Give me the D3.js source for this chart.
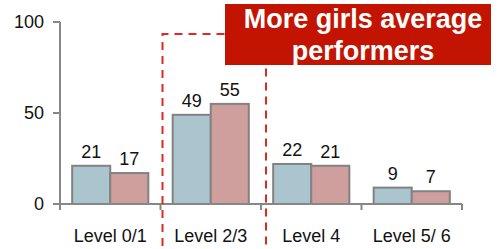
<html>
<style>
    body {
        margin: 0;
        background: #ffffff;
        font-family: Arial, "Liberation Sans", Helvetica, sans-serif;
    }
</style>
<script src="https://d3js.org/d3.v7.min.js"></script>
<body>
<svg id="chart"></svg>
</body>
<script>
let levels = ["Level 0/1", "Level 2/3", "Level 4", "Level 5/ 6"]
let boys = [21, 49, 22, 9]
let girls = [17, 55, 21, 7]
let yTicks = [0, 50, 100]
let calloutLines = ["More girls average", "performers"]

function drawChart() {
  let width = 499, height = 249
  let svg = d3.select("#chart").attr("width", width).attr("height", height)

  let x0 = d3.scaleBand().domain(levels).range([60, 462]).padding(0)
  let x1 = d3.scaleBand().domain(["boys", "girls"]).range([0, x0.bandwidth()])
      .paddingInner(0).paddingOuter(0.32)
  let y = d3.scaleLinear().domain([0, 100]).range([204, 22])
  let colors = {boys: "#abc5cf", girls: "#cf9f9d"}
  let axisColor = "#878787"

  let rows = levels.map((l, i) => ({level: l, vals: [
    {key: "boys", v: boys[i]}, {key: "girls", v: girls[i]}]}))

  // bars
  let g = svg.selectAll("g.cat").data(rows).enter().append("g")
      .attr("class", "cat")
      .attr("transform", d => "translate(" + x0(d.level) + ",0)")
  g.selectAll("rect").data(d => d.vals).enter().append("rect")
      .attr("x", d => x1(d.key))
      .attr("y", d => y(d.v))
      .attr("width", x1.bandwidth())
      .attr("height", d => y(0) - y(d.v))
      .attr("fill", d => colors[d.key])
      .attr("stroke", "#828282")
      .attr("stroke-width", 2)
  g.selectAll("text").data(d => d.vals).enter().append("text")
      .attr("x", d => x1(d.key) + x1.bandwidth() / 2)
      .attr("y", d => y(d.v) - 8)
      .attr("text-anchor", "middle")
      .attr("font-size", "18px")
      .attr("fill", "#111")
      .text(d => d.v)

  // y axis
  let yAxis = svg.append("g")
  yAxis.append("line").attr("x1", 60).attr("x2", 60).attr("y1", y(100)).attr("y2", y(0) + 6)
      .attr("stroke", axisColor).attr("stroke-width", 2)
  yAxis.selectAll("line.tick").data(yTicks).enter().append("line")
      .attr("x1", 53).attr("x2", 60).attr("y1", d => y(d)).attr("y2", d => y(d))
      .attr("stroke", axisColor).attr("stroke-width", 2)
  yAxis.selectAll("text").data(yTicks).enter().append("text")
      .attr("x", 44).attr("y", d => y(d) + 6)
      .attr("text-anchor", "end")
      .attr("font-size", "18px")
      .attr("fill", "#111")
      .text(d => d)

  // x axis
  let xAxis = svg.append("g")
  xAxis.append("line").attr("x1", 53).attr("x2", 462).attr("y1", y(0)).attr("y2", y(0))
      .attr("stroke", axisColor).attr("stroke-width", 2)
  xAxis.selectAll("line.tick").data(levels).enter().append("line")
      .attr("x1", d => x0(d) + x0.bandwidth()).attr("x2", d => x0(d) + x0.bandwidth())
      .attr("y1", y(0)).attr("y2", y(0) + 6)
      .attr("stroke", axisColor).attr("stroke-width", 2)
  xAxis.selectAll("text").data(levels).enter().append("text")
      .attr("x", d => x0(d) + x0.bandwidth() / 2)
      .attr("y", 242)
      .attr("text-anchor", "middle")
      .attr("font-size", "18px")
      .attr("fill", "#111")
      .text(d => d)

  // dashed highlight around Level 2/3
  let hx0 = x0("Level 2/3") + 2, hx1 = x0("Level 2/3") + x0.bandwidth() + 5
  svg.append("path")
      .attr("d", "M" + hx0 + ",260 L" + hx0 + ",34 L" + hx1 + ",34 L" + hx1 + ",260")
      .attr("fill", "none")
      .attr("stroke", "#dc2a22")
      .attr("stroke-width", 2)
      .attr("stroke-dasharray", "8,6")

  // callout box
  svg.append("rect").attr("x", 225).attr("y", 4).attr("width", 266).attr("height", 61)
      .attr("fill", "#c21400")
  svg.selectAll("text.callout").data(calloutLines).enter().append("text")
      .attr("class", "callout")
      .attr("x", 363)
      .attr("y", (d, i) => 28 + i * 32)
      .attr("text-anchor", "middle")
      .attr("font-size", "27px")
      .attr("font-weight", "bold")
      .attr("fill", "#ffffff")
      .text(d => d)
}
drawChart()
</script>
</html>
